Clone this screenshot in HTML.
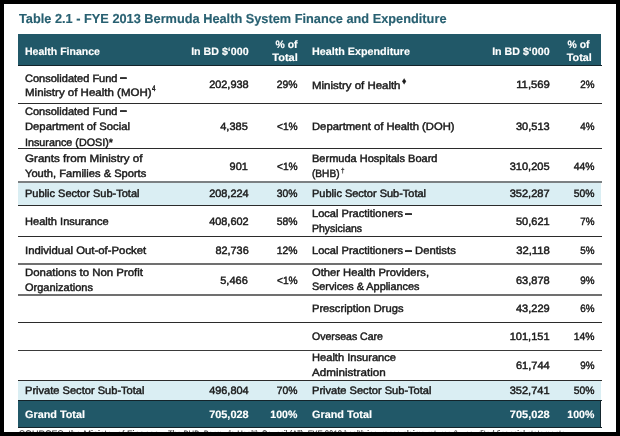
<!DOCTYPE html><html lang="en"><head><meta charset="utf-8"><title>Table 2.1 - FYE 2013 Bermuda Health System Finance and Expenditure</title><style>
html,body{margin:0;padding:0;}
body{width:620px;height:436px;background:#000;position:relative;overflow:hidden;font-family:"Liberation Sans",sans-serif;}
#page{position:absolute;left:4px;top:4px;width:612px;height:427.6px;background:#fff;overflow:hidden;}
#c{position:absolute;left:-4px;top:-4px;width:620px;height:436px;}
.bx{position:absolute;}
.t{position:absolute;white-space:nowrap;line-height:1;text-rendering:geometricPrecision;-webkit-text-stroke:0.45px currentColor;}
.b{font-weight:bold;-webkit-text-stroke:0.15px currentColor;}
.ln{position:absolute;left:18px;width:583.5px;height:1px;background:#333;}
</style></head><body><div id="page"><div id="c">
<div class="bx" style="left:18.3px;top:34px;width:582.7px;height:31px;background:#215868"></div>
<div class="bx" style="left:18px;top:183px;width:583px;height:22px;background:#daeef3"></div>
<div class="bx" style="left:18px;top:381px;width:583px;height:19.5px;background:#daeef3"></div>
<div class="bx" style="left:18.2px;top:400px;width:582.8px;height:27.4px;background:#215868"></div>
<div class="bx" style="left:600.3px;top:400px;width:0.9px;height:28.3px;background:#15272e"></div>
<div class="ln" style="top:103px;height:1px;background:#2b2b2b"></div>
<div class="ln" style="top:148px;height:1px;background:#2b2b2b"></div>
<div class="ln" style="top:181px;height:2px;background:#7b8082"></div>
<div class="ln" style="top:205px;height:1px;background:#2b2b2b"></div>
<div class="ln" style="top:236px;height:1px;background:#2b2b2b"></div>
<div class="ln" style="top:263px;height:2px;background:#707070"></div>
<div class="ln" style="top:294px;height:2px;background:#707070"></div>
<div class="ln" style="top:322.3px;height:1.2px;background:#2b2b2b"></div>
<div class="ln" style="top:349.8px;height:1.3px;background:#3a3a3a"></div>
<div class="ln" style="top:380px;height:1px;background:#2b2b2b"></div>
<div class="ln" style="top:64.7px;height:1px;background:#13232a"></div>
<div class="ln" style="top:399.7px;height:1.1px;background:#13232a"></div>
<div class="ln" style="top:427.3px;height:1px;background:#13232a"></div>
<span class="t b" id="t0" style="top:11.95px;font-size:13px;color:#286071;left:18.6px;transform-origin:0 50%;transform:scaleX(0.9818);">Table 2.1 - FYE 2013 Bermuda Health System Finance and Expenditure</span>
<span class="t b" id="t1" style="top:46.95px;font-size:10.7px;color:#ffffff;left:25px;transform-origin:0 50%;transform:scaleX(0.9864);">Health Finance</span>
<span class="t b" id="t2" style="top:46.95px;font-size:10.7px;color:#ffffff;right:371.6px;transform-origin:100% 50%;transform:scaleX(0.9978);">In BD $‘000</span>
<span class="t b" id="t3" style="top:39.95px;font-size:10.7px;color:#ffffff;right:322.6px;transform-origin:100% 50%;transform:scaleX(0.9751);">% of</span>
<span class="t b" id="t4" style="top:52.95px;font-size:10.7px;color:#ffffff;right:322.3px;transform-origin:100% 50%;transform:scaleX(1.0303);">Total</span>
<span class="t b" id="t5" style="top:46.95px;font-size:10.7px;color:#ffffff;left:311.5px;transform-origin:0 50%;transform:scaleX(1.0061);">Health Expenditure</span>
<span class="t b" id="t6" style="top:46.95px;font-size:10.7px;color:#ffffff;right:70.3px;transform-origin:100% 50%;transform:scaleX(0.9978);">In BD $‘000</span>
<span class="t b" id="t7" style="top:39.95px;font-size:10.7px;color:#ffffff;right:30.1px;transform-origin:100% 50%;transform:scaleX(0.9751);">% of</span>
<span class="t b" id="t8" style="top:52.95px;font-size:10.7px;color:#ffffff;right:28.6px;transform-origin:100% 50%;transform:scaleX(1.0101);">Total</span>
<span class="t" id="t9" style="top:73.95px;font-size:10.7px;color:#1a1a1a;left:25px;transform-origin:0 50%;transform:scaleX(1.0310);">Consolidated Fund</span>
<span class="t b" id="t10" style="top:72.95px;font-size:10.7px;color:#1a1a1a;-webkit-text-stroke:0.6px currentColor;left:120.3px;transform-origin:0 50%;transform:scaleX(1.1423);">–</span>
<span class="t" id="t11" style="top:87.95px;font-size:10.7px;color:#1a1a1a;left:25px;transform-origin:0 50%;transform:scaleX(1.0766);">Ministry of Health (MOH)</span>
<span class="t" id="t12" style="top:84.95px;font-size:8.1px;color:#1a1a1a;left:151.8px;transform-origin:0 50%;transform:scaleX(0.7751);">4</span>
<span class="t" id="t13" style="top:106.95px;font-size:10.7px;color:#1a1a1a;left:25px;transform-origin:0 50%;transform:scaleX(1.0310);">Consolidated Fund</span>
<span class="t b" id="t14" style="top:105.95px;font-size:10.7px;color:#1a1a1a;-webkit-text-stroke:0.6px currentColor;left:120.3px;transform-origin:0 50%;transform:scaleX(1.1423);">–</span>
<span class="t" id="t15" style="top:121.95px;font-size:10.7px;color:#1a1a1a;left:25px;transform-origin:0 50%;transform:scaleX(1.0520);">Department of Social</span>
<span class="t" id="t16" style="top:137.95px;font-size:10.7px;color:#1a1a1a;left:25px;transform-origin:0 50%;transform:scaleX(1.0079);">Insurance (DOSI)*</span>
<span class="t" id="t17" style="top:153.95px;font-size:10.7px;color:#1a1a1a;left:25px;transform-origin:0 50%;transform:scaleX(1.0870);">Grants from Ministry of</span>
<span class="t" id="t18" style="top:168.95px;font-size:10.7px;color:#1a1a1a;left:25px;transform-origin:0 50%;transform:scaleX(1.0395);">Youth, Families &amp; Sports</span>
<span class="t" id="t19" style="top:188.95px;font-size:10.7px;color:#1a1a1a;left:25px;transform-origin:0 50%;transform:scaleX(1.0307);">Public Sector Sub-Total</span>
<span class="t" id="t20" style="top:216.95px;font-size:10.7px;color:#1a1a1a;left:25px;transform-origin:0 50%;transform:scaleX(1.0363);">Health Insurance</span>
<span class="t" id="t21" style="top:245.95px;font-size:10.7px;color:#1a1a1a;left:25px;transform-origin:0 50%;transform:scaleX(1.0630);">Individual Out-of-Pocket</span>
<span class="t" id="t22" style="top:267.95px;font-size:10.7px;color:#1a1a1a;left:25px;transform-origin:0 50%;transform:scaleX(1.0679);">Donations to Non Profit</span>
<span class="t" id="t23" style="top:282.95px;font-size:10.7px;color:#1a1a1a;left:25px;transform-origin:0 50%;transform:scaleX(1.0310);">Organizations</span>
<span class="t" id="t24" style="top:385.95px;font-size:10.7px;color:#1a1a1a;left:25px;transform-origin:0 50%;transform:scaleX(1.0369);">Private Sector Sub-Total</span>
<span class="t b" id="t25" style="top:409.95px;font-size:10.7px;color:#ffffff;left:25px;transform-origin:0 50%;transform:scaleX(1.0137);">Grand Total</span>
<span class="t" id="t26" style="top:79.95px;font-size:10.7px;color:#1a1a1a;right:371.8px;transform-origin:100% 50%;transform:scaleX(1.0222);">202,938</span>
<span class="t" id="t27" style="top:79.95px;font-size:10.7px;color:#1a1a1a;right:322.3px;transform-origin:100% 50%;transform:scaleX(0.9693);">29%</span>
<span class="t" id="t28" style="top:121.95px;font-size:10.7px;color:#1a1a1a;right:371.8px;transform-origin:100% 50%;transform:scaleX(1.0280);">4,385</span>
<span class="t" id="t29" style="top:121.95px;font-size:10.7px;color:#1a1a1a;right:322.3px;transform-origin:100% 50%;transform:scaleX(0.9561);">&lt;1%</span>
<span class="t" id="t30" style="top:161.95px;font-size:10.7px;color:#1a1a1a;right:371.8px;transform-origin:100% 50%;transform:scaleX(1.0256);">901</span>
<span class="t" id="t31" style="top:161.95px;font-size:10.7px;color:#1a1a1a;right:322.3px;transform-origin:100% 50%;transform:scaleX(0.9561);">&lt;1%</span>
<span class="t" id="t32" style="top:188.95px;font-size:10.7px;color:#1a1a1a;right:371.8px;transform-origin:100% 50%;transform:scaleX(1.0222);">208,224</span>
<span class="t" id="t33" style="top:188.95px;font-size:10.7px;color:#1a1a1a;right:322.3px;transform-origin:100% 50%;transform:scaleX(0.9693);">30%</span>
<span class="t" id="t34" style="top:216.95px;font-size:10.7px;color:#1a1a1a;right:371.8px;transform-origin:100% 50%;transform:scaleX(1.0222);">408,602</span>
<span class="t" id="t35" style="top:216.95px;font-size:10.7px;color:#1a1a1a;right:322.3px;transform-origin:100% 50%;transform:scaleX(0.9693);">58%</span>
<span class="t" id="t36" style="top:245.95px;font-size:10.7px;color:#1a1a1a;right:371.8px;transform-origin:100% 50%;transform:scaleX(1.0183);">82,736</span>
<span class="t" id="t37" style="top:245.95px;font-size:10.7px;color:#1a1a1a;right:322.3px;transform-origin:100% 50%;transform:scaleX(0.9693);">12%</span>
<span class="t" id="t38" style="top:275.95px;font-size:10.7px;color:#1a1a1a;right:371.8px;transform-origin:100% 50%;transform:scaleX(1.0280);">5,466</span>
<span class="t" id="t39" style="top:275.95px;font-size:10.7px;color:#1a1a1a;right:322.3px;transform-origin:100% 50%;transform:scaleX(0.9561);">&lt;1%</span>
<span class="t" id="t40" style="top:385.95px;font-size:10.7px;color:#1a1a1a;right:371.8px;transform-origin:100% 50%;transform:scaleX(1.0222);">496,804</span>
<span class="t" id="t41" style="top:385.95px;font-size:10.7px;color:#1a1a1a;right:322.3px;transform-origin:100% 50%;transform:scaleX(0.9693);">70%</span>
<span class="t b" id="t42" style="top:409.95px;font-size:10.7px;color:#ffffff;right:371.6px;transform-origin:100% 50%;transform:scaleX(1.0222);">705,028</span>
<span class="t b" id="t43" style="top:409.95px;font-size:10.7px;color:#ffffff;right:322.3px;transform-origin:100% 50%;transform:scaleX(0.9874);">100%</span>
<span class="t" id="t44" style="top:80.95px;font-size:10.7px;color:#1a1a1a;left:311.5px;transform-origin:0 50%;transform:scaleX(1.0719);">Ministry of Health</span>
<span class="t" id="t45" style="top:76.95px;font-size:9px;color:#1a1a1a;left:402px;transform-origin:0 50%;transform:scaleX(0.9361);">♦</span>
<span class="t" id="t46" style="top:121.95px;font-size:10.7px;color:#1a1a1a;left:311.5px;transform-origin:0 50%;transform:scaleX(1.0523);">Department of Health (DOH)</span>
<span class="t" id="t47" style="top:153.95px;font-size:10.7px;color:#1a1a1a;left:311.5px;transform-origin:0 50%;transform:scaleX(1.0305);">Bermuda Hospitals Board</span>
<span class="t" id="t48" style="top:168.95px;font-size:10.7px;color:#1a1a1a;left:311.5px;transform-origin:0 50%;transform:scaleX(0.9452);">(BHB)</span>
<span class="t b" id="t49" style="top:167.95px;font-size:7px;color:#1a1a1a;left:340.5px;transform-origin:0 50%;transform:scaleX(0.8960);">†</span>
<span class="t" id="t50" style="top:188.95px;font-size:10.7px;color:#1a1a1a;left:311.5px;transform-origin:0 50%;transform:scaleX(1.0262);">Public Sector Sub-Total</span>
<span class="t" id="t51" style="top:208.95px;font-size:10.7px;color:#1a1a1a;left:311.5px;transform-origin:0 50%;transform:scaleX(1.0350);">Local Practitioners</span>
<span class="t b" id="t52" style="top:208.95px;font-size:10.7px;color:#1a1a1a;-webkit-text-stroke:0.6px currentColor;left:405.3px;transform-origin:0 50%;transform:scaleX(1.1759);">–</span>
<span class="t" id="t53" style="top:223.95px;font-size:10.7px;color:#1a1a1a;left:311.5px;transform-origin:0 50%;transform:scaleX(0.9786);">Physicians</span>
<span class="t" id="t54" style="top:245.95px;font-size:10.7px;color:#1a1a1a;left:311.5px;transform-origin:0 50%;transform:scaleX(1.0350);">Local Practitioners</span>
<span class="t b" id="t55" style="top:245.95px;font-size:10.7px;color:#1a1a1a;-webkit-text-stroke:0.6px currentColor;left:405.3px;transform-origin:0 50%;transform:scaleX(1.1759);">–</span>
<span class="t" id="t56" style="top:245.95px;font-size:10.7px;color:#1a1a1a;left:414.9px;transform-origin:0 50%;transform:scaleX(1.0567);">Dentists</span>
<span class="t" id="t57" style="top:267.95px;font-size:10.7px;color:#1a1a1a;left:311.5px;transform-origin:0 50%;transform:scaleX(1.0477);">Other Health Providers,</span>
<span class="t" id="t58" style="top:281.95px;font-size:10.7px;color:#1a1a1a;left:311.5px;transform-origin:0 50%;transform:scaleX(1.0165);">Services &amp; Appliances</span>
<span class="t" id="t59" style="top:303.95px;font-size:10.7px;color:#1a1a1a;left:311.5px;transform-origin:0 50%;transform:scaleX(1.0409);">Prescription Drugs</span>
<span class="t" id="t60" style="top:331.95px;font-size:10.7px;color:#1a1a1a;left:311.5px;transform-origin:0 50%;transform:scaleX(0.9878);">Overseas Care</span>
<span class="t" id="t61" style="top:352.95px;font-size:10.7px;color:#1a1a1a;left:311.5px;transform-origin:0 50%;transform:scaleX(1.0394);">Health Insurance</span>
<span class="t" id="t62" style="top:367.95px;font-size:10.7px;color:#1a1a1a;left:311.5px;transform-origin:0 50%;transform:scaleX(1.0883);">Administration</span>
<span class="t" id="t63" style="top:385.95px;font-size:10.7px;color:#1a1a1a;left:311.5px;transform-origin:0 50%;transform:scaleX(1.0369);">Private Sector Sub-Total</span>
<span class="t b" id="t64" style="top:409.95px;font-size:10.7px;color:#ffffff;left:311.5px;transform-origin:0 50%;transform:scaleX(1.0137);">Grand Total</span>
<span class="t" id="t65" style="top:79.95px;font-size:10.7px;color:#1a1a1a;right:70.2px;transform-origin:100% 50%;transform:scaleX(1.0578);">11,569</span>
<span class="t" id="t66" style="top:79.95px;font-size:10.7px;color:#1a1a1a;right:25.8px;transform-origin:100% 50%;transform:scaleX(0.9221);">2%</span>
<span class="t" id="t67" style="top:121.95px;font-size:10.7px;color:#1a1a1a;right:70.2px;transform-origin:100% 50%;transform:scaleX(1.0320);">30,513</span>
<span class="t" id="t68" style="top:121.95px;font-size:10.7px;color:#1a1a1a;right:25.8px;transform-origin:100% 50%;transform:scaleX(0.9221);">4%</span>
<span class="t" id="t69" style="top:161.95px;font-size:10.7px;color:#1a1a1a;right:70.2px;transform-origin:100% 50%;transform:scaleX(1.0352);">310,205</span>
<span class="t" id="t70" style="top:161.95px;font-size:10.7px;color:#1a1a1a;right:25.8px;transform-origin:100% 50%;transform:scaleX(0.9693);">44%</span>
<span class="t" id="t71" style="top:188.95px;font-size:10.7px;color:#1a1a1a;right:70.2px;transform-origin:100% 50%;transform:scaleX(1.0352);">352,287</span>
<span class="t" id="t72" style="top:188.95px;font-size:10.7px;color:#1a1a1a;right:25.8px;transform-origin:100% 50%;transform:scaleX(0.9693);">50%</span>
<span class="t" id="t73" style="top:216.95px;font-size:10.7px;color:#1a1a1a;right:70.2px;transform-origin:100% 50%;transform:scaleX(1.0320);">50,621</span>
<span class="t" id="t74" style="top:216.95px;font-size:10.7px;color:#1a1a1a;right:25.8px;transform-origin:100% 50%;transform:scaleX(0.9221);">7%</span>
<span class="t" id="t75" style="top:245.95px;font-size:10.7px;color:#1a1a1a;right:70.2px;transform-origin:100% 50%;transform:scaleX(1.0578);">32,118</span>
<span class="t" id="t76" style="top:245.95px;font-size:10.7px;color:#1a1a1a;right:25.8px;transform-origin:100% 50%;transform:scaleX(0.9221);">5%</span>
<span class="t" id="t77" style="top:275.95px;font-size:10.7px;color:#1a1a1a;right:70.2px;transform-origin:100% 50%;transform:scaleX(1.0320);">63,878</span>
<span class="t" id="t78" style="top:275.95px;font-size:10.7px;color:#1a1a1a;right:25.8px;transform-origin:100% 50%;transform:scaleX(0.9221);">9%</span>
<span class="t" id="t79" style="top:303.95px;font-size:10.7px;color:#1a1a1a;right:70.2px;transform-origin:100% 50%;transform:scaleX(1.0320);">43,229</span>
<span class="t" id="t80" style="top:303.95px;font-size:10.7px;color:#1a1a1a;right:25.8px;transform-origin:100% 50%;transform:scaleX(0.9221);">6%</span>
<span class="t" id="t81" style="top:331.95px;font-size:10.7px;color:#1a1a1a;right:70.2px;transform-origin:100% 50%;transform:scaleX(1.0352);">101,151</span>
<span class="t" id="t82" style="top:331.95px;font-size:10.7px;color:#1a1a1a;right:25.8px;transform-origin:100% 50%;transform:scaleX(0.9693);">14%</span>
<span class="t" id="t83" style="top:360.95px;font-size:10.7px;color:#1a1a1a;right:70.2px;transform-origin:100% 50%;transform:scaleX(1.0320);">61,744</span>
<span class="t" id="t84" style="top:360.95px;font-size:10.7px;color:#1a1a1a;right:25.8px;transform-origin:100% 50%;transform:scaleX(0.9221);">9%</span>
<span class="t" id="t85" style="top:385.95px;font-size:10.7px;color:#1a1a1a;right:70.2px;transform-origin:100% 50%;transform:scaleX(1.0352);">352,741</span>
<span class="t" id="t86" style="top:385.95px;font-size:10.7px;color:#1a1a1a;right:25.8px;transform-origin:100% 50%;transform:scaleX(0.9693);">50%</span>
<span class="t b" id="t87" style="top:409.95px;font-size:10.7px;color:#ffffff;right:70.1px;transform-origin:100% 50%;transform:scaleX(1.0300);">705,028</span>
<span class="t b" id="t88" style="top:409.95px;font-size:10.7px;color:#ffffff;right:25.7px;transform-origin:100% 50%;transform:scaleX(0.9874);">100%</span>
<span class="t" id="t89" style="top:429.95px;font-size:9.5px;color:#333;-webkit-text-stroke:0.1px currentColor;left:19px;transform-origin:0 50%;transform:scaleX(0.9470);">SOURCES: the Ministry of Finance.</span>
<span class="t" id="t90" style="top:429.95px;font-size:9.5px;color:#333;-webkit-text-stroke:0.1px currentColor;left:168px;transform-origin:0 50%;transform:scaleX(0.8137);">The BHB, Bermuda Health Council (All), FYE 2013 health insurance claims returns &amp; unaudited financial statements</span>
</div></div></body></html>
